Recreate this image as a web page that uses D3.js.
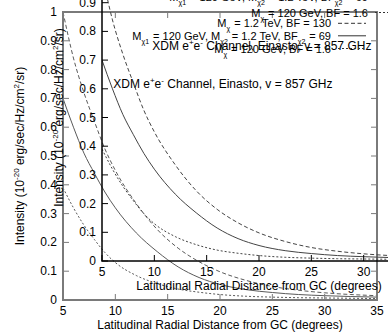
<!DOCTYPE html>
<html><head><meta charset="utf-8">
<script src="https://cdn.jsdelivr.net/npm/d3@7"></script>
<style>
body{margin:0;background:#fff}
svg{display:block}
text{font-family:"Liberation Sans",Arial,Helvetica,sans-serif;font-size:12px;fill:#000}
</style></head>
<body><svg id="chart" width="388" height="332"></svg>
<script>
// ---- data ----
const xTicks = [5, 10, 15, 20, 25, 30, 35];
const yTicks = [0, 0.1, 0.2, 0.3, 0.4, 0.5, 0.6, 0.7, 0.8, 0.9, 1];
const yTickLabels = ["0", "0.1", "0.2", "0.3", "0.4", "0.5", "0.6", "0.7", "0.8", "0.9", "1"];
const latitudes = [5, 6, 7, 8, 9, 10, 12, 14, 16, 18, 20, 22.5, 25, 27.5, 30, 32.5, 35];

// Intensity curves (same values drawn in both overlapping panels)
const mixedSolid   = [0.70, 0.60, 0.51, 0.44, 0.375, 0.32, 0.233, 0.168, 0.115, 0.078, 0.054, 0.036, 0.026, 0.019, 0.015, 0.012, 0.010];
const heavyDashed  = [1.00, 0.84, 0.72, 0.62, 0.525, 0.45, 0.335, 0.245, 0.18, 0.133, 0.098, 0.068, 0.047, 0.034, 0.025, 0.019, 0.015];
const lightDotted  = [0.39, 0.32, 0.26, 0.21, 0.165, 0.13, 0.085, 0.057, 0.038, 0.027, 0.019, 0.013, 0.010, 0.008, 0.007, 0.006, 0.005];

const xLabel = "Latitudinal Radial Distance from GC (degrees)";

const svg = d3.select("#chart");

function panel(o) {
  const g = svg.append("g");
  const x = d3.scaleLinear().domain([5, 35]).range([o.left, o.right]);
  const y = d3.scaleLinear().domain([0, 1]).range([o.bottom, o.top]);
  const fc = o.frame;
  const line = d3.line().x((d, i) => x(latitudes[i])).y(d => y(d)).curve(d3.curveMonotoneX);
  const clipId = "clip" + o.id;
  svg.append("clipPath").attr("id", clipId).append("rect")
    .attr("x", o.left).attr("y", o.top).attr("width", o.right - o.left).attr("height", o.bottom - o.top);
  const cg = g.append("g").attr("clip-path", `url(#${clipId})`);
  [[mixedSolid, null], [heavyDashed, "4,2.5"], [lightDotted, "2,2"]].forEach(([arr, dash]) => {
    cg.append("path").attr("d", line(arr)).attr("fill", "none")
      .attr("stroke", o.curve).attr("stroke-width", 1)
      .attr("stroke-dasharray", dash);
  });
  g.append("rect").attr("x", o.left).attr("y", o.top)
    .attr("width", o.right - o.left).attr("height", o.bottom - o.top)
    .attr("fill", "none").attr("stroke", fc).attr("stroke-width", o.fw);
  xTicks.forEach(t => {
    g.append("line").attr("x1", x(t)).attr("x2", x(t)).attr("y1", o.bottom).attr("y2", o.bottom - 6).attr("stroke", fc);
    g.append("line").attr("x1", x(t)).attr("x2", x(t)).attr("y1", o.top).attr("y2", o.top + 6).attr("stroke", fc);
    g.append("text").attr("x", x(t)).attr("y", o.bottom + 15).attr("text-anchor", "middle").attr("fill", o.text).text(t);
  });
  yTicks.forEach((t, i) => {
    g.append("line").attr("x1", o.left).attr("x2", o.left + 6).attr("y1", y(t)).attr("y2", y(t)).attr("stroke", fc);
    g.append("line").attr("x1", o.right).attr("x2", o.right - 6).attr("y1", y(t)).attr("y2", y(t)).attr("stroke", fc);
    g.append("text").attr("x", o.left - 6).attr("y", y(t) + 4).attr("text-anchor", "end").attr("fill", o.text).text(yTickLabels[i]);
  });
  g.append("text").attr("x", (o.left + o.right) / 2).attr("y", o.bottom + 29).attr("text-anchor", "middle").attr("fill", o.text).text(xLabel);
  const yl = g.append("text").attr("transform", `translate(${o.left - 39},${(o.top + o.bottom) / 2}) rotate(-90)`)
    .attr("text-anchor", "middle").attr("fill", o.text);
  yl.append("tspan").text("Intensity (10");
  yl.append("tspan").attr("dy", -5).attr("font-size", 8).text("-20");
  yl.append("tspan").attr("dy", 5).text(" erg/sec/Hz/cm");
  yl.append("tspan").attr("dy", -5).attr("font-size", 8).text("2");
  yl.append("tspan").attr("dy", 5).text("/sr)");
  const tt = g.append("text").attr("x", x(9.8)).attr("y", y(0.75) + 4).attr("fill", o.text);
  tt.append("tspan").text("XDM e");
  tt.append("tspan").attr("dy", -5).attr("font-size", 8).text("+");
  tt.append("tspan").attr("dy", 5).text("e");
  tt.append("tspan").attr("dy", -5).attr("font-size", 8).text("-");
  tt.append("tspan").attr("dy", 5).text(" Channel, Einasto, v = 857 GHz");
  return {g, x, y};
}

function subText(g, xr, yc, parts, color) {
  const t = g.append("text").attr("x", xr).attr("y", yc + 4).attr("text-anchor", "end")
    .attr("fill", color).style("font-size", "11px");
  parts.forEach(p => {
    if (typeof p === "string") t.append("tspan").text(p);
    else { t.append("tspan").attr("dy", 4).style("font-size", "7px").text(p.sub); t.append("tspan").attr("dy", -4).text("\u200A"); }
  });
  return t;
}
function legend(g, xr, ys, color) {
  const rows = [
    [["M", {sub: "\u03C7"}, " = 1.2 TeV, BF = 130"], "4,2.5"],
    [["M", {sub: "\u03C71"}, " = 120 GeV, M", {sub: "\u03C72"}, " = 1.2 TeV, BF", {sub: "\u03C72"}, " = 69"], null],
    [["M", {sub: "\u03C7"}, " = 120 GeV, BF = 1.6"], "2,2"]
  ];
  rows.forEach((r, i) => {
    subText(g, xr, ys[i], r[0], color);
    g.append("line").attr("x1", xr + 7).attr("x2", xr + 35).attr("y1", ys[i]).attr("y2", ys[i])
      .attr("stroke", "#333").attr("stroke-dasharray", r[1]);
  });
}

const back = panel({id: "b", left: 63, right: 377, top: 12, bottom: 300, frame: "#7a7a7a", fw: 2, curve: "#5a5a5a", text: "#111"});
legend(back.g, 368, [-15, -3, 12.5], "#111");
const front = panel({id: "f", left: 102, right: 416, top: -26, bottom: 261, frame: "#000", fw: 1.5, curve: "#444", text: "#000"});
legend(front.g, 331, [23.3, 35.8, 48.5], "#000");
</script></body></html>
